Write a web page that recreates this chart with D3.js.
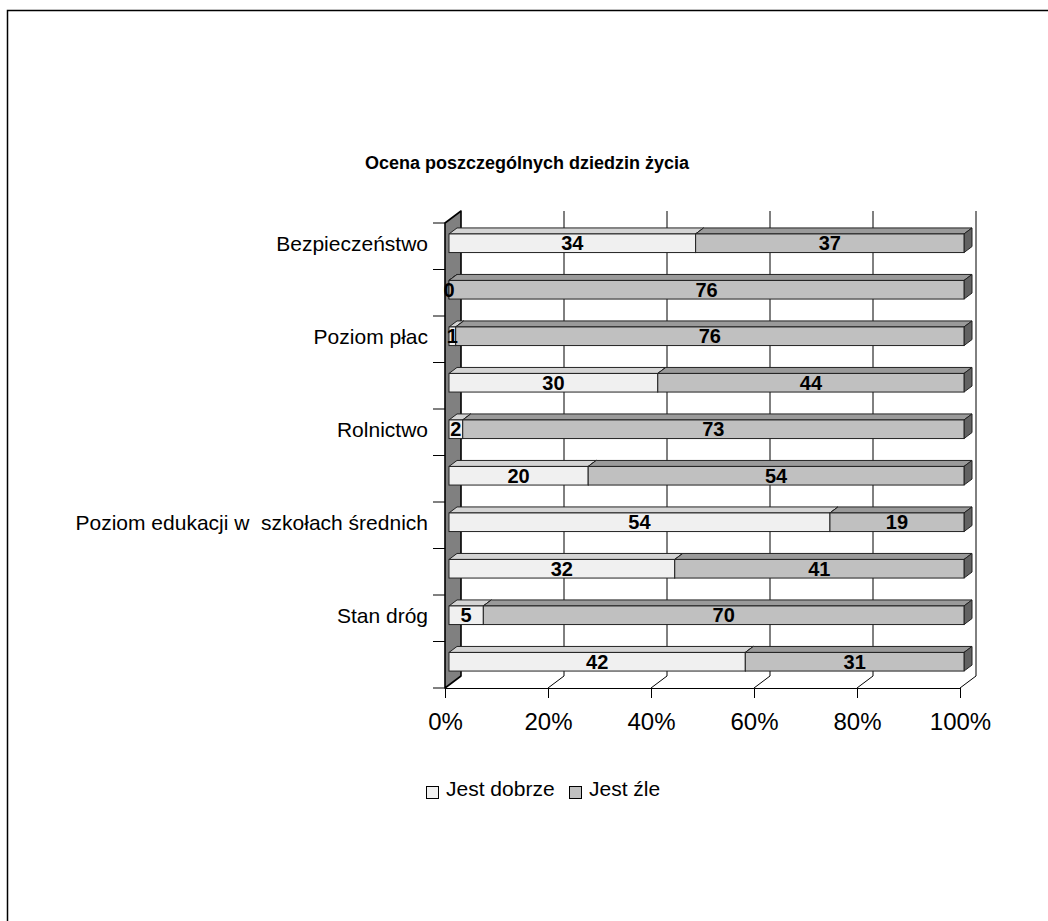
<!DOCTYPE html>
<html>
<head>
<meta charset="utf-8">
<script src="https://cdn.jsdelivr.net/npm/d3@7"></script>
<style>
  body { margin: 0; background: #fff; }
  svg { display: block; font-family: "Liberation Sans", Arial, sans-serif; }
  text.cat { white-space: pre; }
</style>
</head>
<body>
<div id="chart"></div>
<script>
// categories top to bottom (every second label is hidden in the original)
let categories = ["Bezpieczeństwo", "", "Poziom płac", "", "Rolnictwo", "",
                  "Poziom edukacji w  szkołach średnich", "", "Stan dróg", ""];
let dobrze = [34, 0, 1, 30, 2, 20, 54, 32, 5, 42];   // Jest dobrze
let zle    = [37, 76, 76, 44, 73, 54, 19, 41, 70, 31]; // Jest źle
let seriesNames = ["Jest dobrze", "Jest źle"];
let xTicks = [0, 0.2, 0.4, 0.6, 0.8, 1];

let svg_width = 1048;
let svg_height = 921;

// 3d offsets
let wallDx = 16, wallDy = -12;     // depth of the plot box
let barFx = 4, barFy = -3;         // bar front plane
let barDx = 8, barDy = -6;         // bar depth

let frontFill = ["#f0f0f0", "#c0c0c0"];
let topFill = ["#d4d4d4", "#9a9a9a"];
let sideFill = ["#a8a8a8", "#626262"];

let svg = d3.select('#chart')
    .append('svg')
    .attr('width', svg_width)
    .attr('height', svg_height);

// outer frame
svg.append('rect')
    .attr('x', 7.5).attr('y', 10.5)
    .attr('width', 1100).attr('height', 1000)
    .attr('fill', 'none').attr('stroke', '#000').attr('stroke-width', 1.5);

let x = d3.scaleLinear().domain([0, 1]).range([445, 960]);
let y = d3.scaleBand().domain(d3.range(categories.length))
    .range([223, 688]).paddingInner(0.6).paddingOuter(0.3);

let yTop = y.range()[0], yBot = y.range()[1];

// back wall gridlines + floor lines
xTicks.filter(t => t > 0).forEach(function(t) {
    svg.append('path')
        .attr('d', 'M' + (x(t) + wallDx) + ',' + (yTop + wallDy) +
                   'L' + (x(t) + wallDx) + ',' + (yBot + wallDy) +
                   'L' + x(t) + ',' + yBot)
        .attr('fill', 'none').attr('stroke', '#000').attr('stroke-width', 1);
});

// left side wall
svg.append('path')
    .attr('d', 'M' + x(0) + ',' + yTop + 'L' + (x(0) + wallDx) + ',' + (yTop + wallDy) +
               'L' + (x(0) + wallDx) + ',' + (yBot + wallDy) + 'L' + x(0) + ',' + yBot + 'Z')
    .attr('fill', '#808080').attr('stroke', '#000').attr('stroke-width', 1.6)
    .attr('stroke-linejoin', 'round');

// x axis
let xAxis = svg.append('g')
    .attr('transform', 'translate(0,' + yBot + ')')
    .call(d3.axisBottom(x).tickValues(xTicks).tickFormat(d3.format('.0%')).tickSize(10).tickSizeOuter(0));
xAxis.select('.domain').attr('stroke', '#000');
xAxis.selectAll('.tick line').attr('stroke', '#000');
xAxis.selectAll('.tick text')
    .attr('y', 42).attr('dy', 0)
    .attr('font-size', 24).attr('fill', '#000')
    .attr('font-family', '"Liberation Sans", Arial, sans-serif');

// y ticks at category boundaries
let bounds = d3.range(categories.length + 1).map(i => yTop + i * (yBot - yTop) / categories.length);
svg.selectAll('line.ytick')
    .data(bounds)
    .enter()
    .append('line')
    .attr('class', 'ytick')
    .attr('x1', x(0) - 12).attr('x2', x(0))
    .attr('y1', d => d).attr('y2', d => d)
    .attr('stroke', '#000');

// category labels
svg.selectAll('text.cat')
    .data(categories)
    .enter()
    .append('text')
    .attr('class', 'cat')
    .attr('x', 428)
    .attr('y', (d, i) => y(i) + y.bandwidth() / 2 + barFy)
    .attr('dy', '0.36em')
    .attr('text-anchor', 'end')
    .attr('font-size', 21)
    .text(d => d);

// stacked data
let rows = categories.map((c, i) => ({ i: i, dobrze: dobrze[i], zle: zle[i] }));
let stack = d3.stack().keys(['dobrze', 'zle']).offset(d3.stackOffsetExpand)(rows);

// draw bars, top to bottom, segments left to right
rows.forEach(function(r, i) {
    let y0 = y(i) + barFy, h = y.bandwidth();
    stack.forEach(function(s, k) {
        let d = s[i];
        let xa = x(d[0]) + barFx, xb = x(d[1]) + barFx;
        let g = svg.append('g');
        // top face
        g.append('path')
            .attr('d', 'M' + xa + ',' + y0 + 'L' + (xa + barDx) + ',' + (y0 + barDy) +
                       'L' + (xb + barDx) + ',' + (y0 + barDy) + 'L' + xb + ',' + y0 + 'Z')
            .attr('fill', topFill[k]).attr('stroke', '#222').attr('stroke-width', 1);
        // right face
        g.append('path')
            .attr('d', 'M' + xb + ',' + y0 + 'L' + (xb + barDx) + ',' + (y0 + barDy) +
                       'L' + (xb + barDx) + ',' + (y0 + barDy + h) + 'L' + xb + ',' + (y0 + h) + 'Z')
            .attr('fill', sideFill[k]).attr('stroke', '#222').attr('stroke-width', 1);
        // front face
        g.append('rect')
            .attr('x', xa).attr('y', y0)
            .attr('width', Math.max(0, xb - xa)).attr('height', h)
            .attr('fill', frontFill[k]).attr('stroke', '#222').attr('stroke-width', 1);
    });
});

// value labels
stack.forEach(function(s, k) {
    let vals = k === 0 ? dobrze : zle;
    svg.selectAll('text.val' + k)
        .data(s)
        .enter()
        .append('text')
        .attr('x', d => (x(d[0]) + x(d[1])) / 2 + barFx)
        .attr('y', (d, i) => y(i) + barFy + y.bandwidth() / 2)
        .attr('dy', '0.36em')
        .attr('text-anchor', 'middle')
        .attr('font-size', 20)
        .attr('font-weight', 'bold')
        .text((d, i) => vals[i]);
});

// title
svg.append('text')
    .attr('x', 527).attr('y', 169)
    .attr('text-anchor', 'middle')
    .attr('font-size', 18)
    .attr('font-weight', 'bold')
    .text('Ocena poszczególnych dziedzin życia');

// legend
let legX = [426, 569];
let leg = svg.selectAll('g.leg')
    .data(seriesNames)
    .enter()
    .append('g')
    .attr('transform', (d, i) => 'translate(' + legX[i] + ',786)');
leg.append('rect')
    .attr('x', 0.5).attr('y', 0.5).attr('width', 12).attr('height', 12)
    .attr('fill', (d, i) => frontFill[i]).attr('stroke', '#000');
leg.append('text')
    .attr('x', 20).attr('y', 10)
    .attr('font-size', 21)
    .text(d => d);
</script>
</body>
</html>
